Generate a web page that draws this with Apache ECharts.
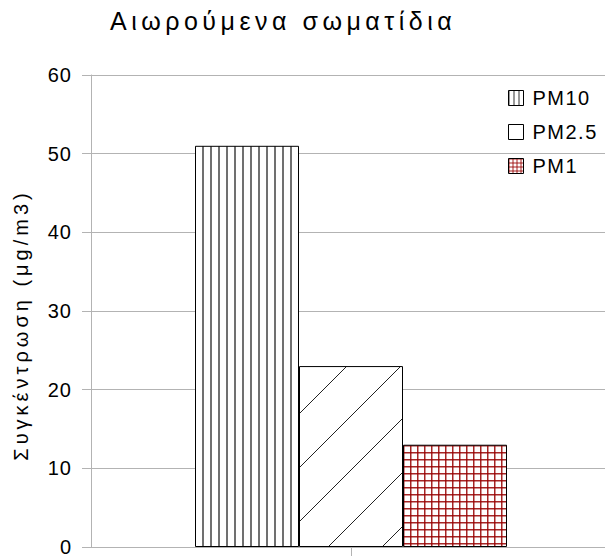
<!DOCTYPE html>
<html>
<head>
<meta charset="utf-8">
<script src="https://cdn.jsdelivr.net/npm/echarts@6/dist/echarts.min.js"></script>
<style>
  html, body { margin: 0; padding: 0; background: #fff; }
  #chart { width: 605px; height: 559px; }
</style>
</head>
<body>
<div id="chart"></div>
<script>
// Particulate matter concentrations
const categories = [''];
const seriesNames = ['PM10', 'PM2.5', 'PM1'];
const pm10Values = [51];
const pm25Values = [23];
const pm1Values = [13];
const yTickValues = [0, 10, 20, 30, 40, 50, 60];

const titleText = 'Αιωρούμενα σωματίδια';
const yAxisTitle = 'Συγκέντρωση (μg/m3)';

// Hatch fills drawn into small tiles
function makeTile(size, draw) {
  const c = document.createElement('canvas');
  c.width = size; c.height = size;
  const ctx = c.getContext('2d');
  ctx.fillStyle = '#ffffff';
  ctx.fillRect(0, 0, size, size);
  draw(ctx, size);
  return c;
}

const verticalTile = makeTile(8, (ctx, s) => {
  ctx.fillStyle = '#707070';
  ctx.fillRect(2, 0, 2, s);
});

const diagonalTile = makeTile(54, (ctx, s) => {
  ctx.strokeStyle = '#222222';
  ctx.lineWidth = 1;
  ctx.beginPath();
  ctx.moveTo(-2, 13); ctx.lineTo(13, -2);
  ctx.moveTo(9, s + 2); ctx.lineTo(s + 2, 9);
  ctx.stroke();
});

const gridTile = makeTile(7, (ctx, s) => {
  ctx.fillStyle = 'rgba(150, 0, 0, 0.85)';
  ctx.fillRect(0, 4, s, 1.5);
  ctx.fillRect(4, 0, 1.5, s);
});

// Smaller versions of the fills for the legend swatches
const verticalSwatch = makeTile(5, (ctx, s) => {
  ctx.fillStyle = '#333333';
  ctx.fillRect(0, 0, 1, s);
});

const gridSwatch = makeTile(4, (ctx, s) => {
  ctx.fillStyle = 'rgba(150, 0, 0, 0.85)';
  ctx.fillRect(0, 0, s, 1);
  ctx.fillRect(0, 0, 1, s);
});

const fills = [verticalTile, diagonalTile, gridTile];
const swatches = [
  { image: verticalSwatch, repeat: 'repeat' },
  '#ffffff',
  { image: gridSwatch, repeat: 'repeat' }
];
const valueSets = [pm10Values, pm25Values, pm1Values];

const series = seriesNames.map((name, i) => ({
  name: name,
  type: 'bar',
  data: valueSets[i],
  barWidth: 104,
  barGap: '0%',
  itemStyle: {
    color: { image: fills[i], repeat: 'repeat' },
    borderColor: '#000000',
    borderWidth: 1
  }
}));

const chart = echarts.init(document.getElementById('chart'), null, { renderer: 'svg' });

chart.setOption({
  animation: false,
  backgroundColor: '#ffffff',
  title: {
    text: titleText,
    left: 105,
    top: 3,
    textStyle: {
      fontFamily: 'Liberation Sans',
      fontSize: 25,
      fontWeight: 'normal',
      color: '#000000'
    }
  },
  legend: {
    data: seriesNames.map((name, i) => ({
      name: name,
      itemStyle: { color: swatches[i], borderColor: '#000000', borderWidth: 1 }
    })),
    orient: 'vertical',
    left: 503,
    top: 83,
    icon: 'rect',
    itemWidth: 15,
    itemHeight: 15,
    itemGap: 14,
    textStyle: {
      fontFamily: 'Liberation Sans',
      fontSize: 20,
      color: '#000000',
      padding: [0, 0, 0, 4]
    }
  },
  grid: {
    left: 91,
    top: 75,
    width: 520,
    height: 472,
    containLabel: false,
    outerBoundsMode: 'none'
  },
  xAxis: {
    type: 'category',
    data: categories,
    axisLine: { show: true, lineStyle: { color: '#b3b3b3' } },
    axisTick: { show: true, alignWithLabel: true, length: 9, lineStyle: { color: '#b3b3b3' } },
    axisLabel: { show: false }
  },
  yAxis: {
    type: 'value',
    min: yTickValues[0],
    max: yTickValues[yTickValues.length - 1],
    interval: 10,
    name: yAxisTitle,
    nameLocation: 'middle',
    nameGap: 60,
    nameTextStyle: {
      fontFamily: 'Liberation Sans',
      fontSize: 20,
      color: '#000000',
      padding: [0, 28, 0, 0]
    },
    axisLine: { show: true, lineStyle: { color: '#b3b3b3' } },
    axisTick: { show: true, length: 9, lineStyle: { color: '#b3b3b3' } },
    axisLabel: {
      margin: 19,
      fontFamily: 'Liberation Sans',
      fontSize: 20,
      color: '#000000'
    },
    splitLine: { show: true, lineStyle: { color: '#b3b3b3' } }
  },
  series: series
});

// Wider character spacing for the text runs
const spacing = {};
spacing[titleText] = '4.5px';
spacing[yAxisTitle] = '4px';
seriesNames.forEach(n => { spacing[n] = '1.5px'; });
yTickValues.forEach(v => { spacing[String(v)] = '1px'; });

function applySpacing() {
  document.querySelectorAll('#chart text').forEach(t => {
    const s = spacing[t.textContent];
    if (s) t.style.letterSpacing = s;
  });
}
applySpacing();
chart.on('finished', applySpacing);
</script>
</body>
</html>
